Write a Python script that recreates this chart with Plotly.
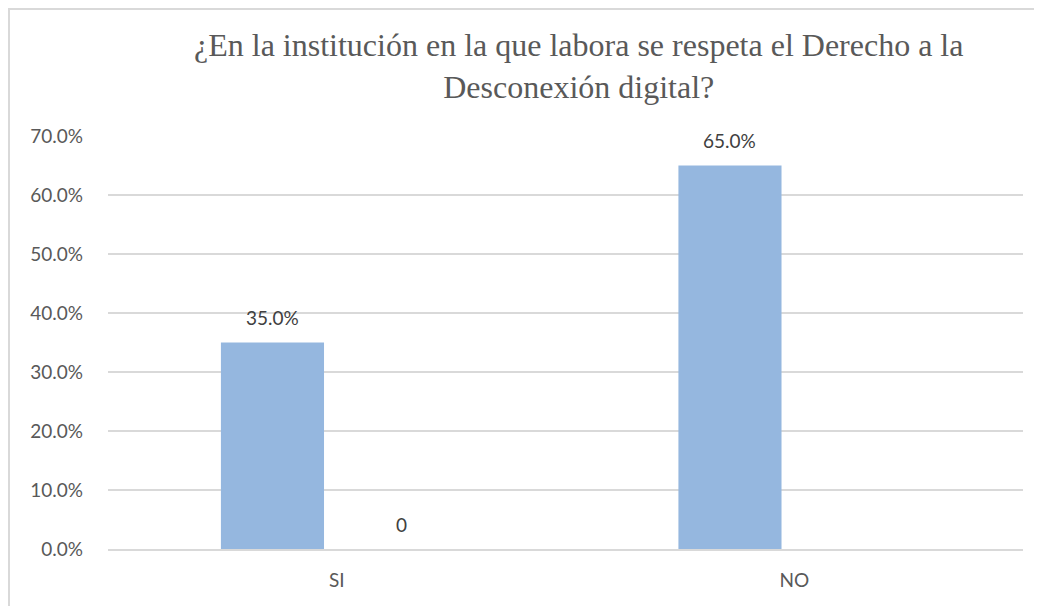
import plotly.graph_objects as go

categories = ["SI", "NO"]
series1 = [0.35, 0.65]
series2 = [0, None]
series1_labels = ["35.0%", "65.0%"]
series2_labels = ["0", ""]
title_lines = ["¿En la institución en la que labora se respeta el Derecho a la", "Desconexión digital?"]
y_ticks = [0, 0.1, 0.2, 0.3, 0.4, 0.5, 0.6, 0.7]

# page body has an 8px margin, so the figure starts at (8, 8) in the window
W, H = 1034, 598
ML, MR, MT, MB = 100, 19, 128, 57
pw, ph = W - ML - MR, H - MT - MB
BARGAP, BARGROUPGAP = 0.438, 0.198

bar_color = "#95B7DF"
grid = "#D9D9D9"
tick_font = dict(family="Lato, Calibri, sans-serif", size=19, color="#595959")
label_font = dict(family="Lato, Calibri, sans-serif", size=19, color="#404040")

fig = go.Figure()
fig.add_trace(go.Bar(
    x=categories, y=series1, marker=dict(color=bar_color, line=dict(width=0)),
    showlegend=False, hoverinfo="x+y",
))
fig.add_trace(go.Bar(
    x=categories, y=series2, marker=dict(color="#4F81BD", line=dict(width=0)),
    showlegend=False, hoverinfo="x+y",
))

def px_x(p):
    return (p - ML) / pw

def px_y(p):
    return (H - MB - p) / ph

# horizontal offset of each bar inside its group (pixels), from the bar layout
cat_w = pw / len(categories)
slot = cat_w * (1 - BARGAP) / 2
offsets = [-slot / 2, slot / 2]

annotations = [dict(
    text="<br>".join(title_lines), xref="paper", yref="paper",
    x=px_x(570), y=px_y(58), xanchor="center", yanchor="middle",
    showarrow=False, align="center",
    font=dict(family="Liberation Serif, Times New Roman, serif", size=32, color="#595959"),
)]
for vals, labels, off in [(series1, series1_labels, offsets[0]), (series2, series2_labels, offsets[1])]:
    for c, v, t in zip(categories, vals, labels):
        if v is None or t == "":
            continue
        annotations.append(dict(
            x=c, y=v, xref="x", yref="y", text=t, showarrow=False,
            xshift=off, yshift=25, xanchor="center", yanchor="middle",
            font=label_font,
        ))

shapes = [
    dict(type="line", xref="paper", yref="paper", x0=px_x(0), x1=px_x(W + 5), y0=px_y(1), y1=px_y(1),
         line=dict(color=grid, width=2)),
    dict(type="line", xref="paper", yref="paper", x0=px_x(1), x1=px_x(1), y0=px_y(0), y1=px_y(H + 5),
         line=dict(color=grid, width=2)),
]

fig.update_layout(
    width=W, height=H,
    margin=dict(l=ML, r=MR, t=MT, b=MB),
    paper_bgcolor="white", plot_bgcolor="white",
    barmode="group", bargap=BARGAP, bargroupgap=BARGROUPGAP,
    shapes=shapes,
    annotations=annotations,
    xaxis=dict(showgrid=False, showline=True, linecolor=grid, linewidth=1.5,
               ticks="", tickfont=tick_font, ticklabelstandoff=13),
    yaxis=dict(range=[0, 0.7], tickvals=y_ticks, tickformat=".1%", showgrid=True,
               gridcolor=grid, gridwidth=1.5, zeroline=False, showline=False,
               tickfont=tick_font, ticks="", ticklabelstandoff=24),
)

fig.write_html("out.html")
